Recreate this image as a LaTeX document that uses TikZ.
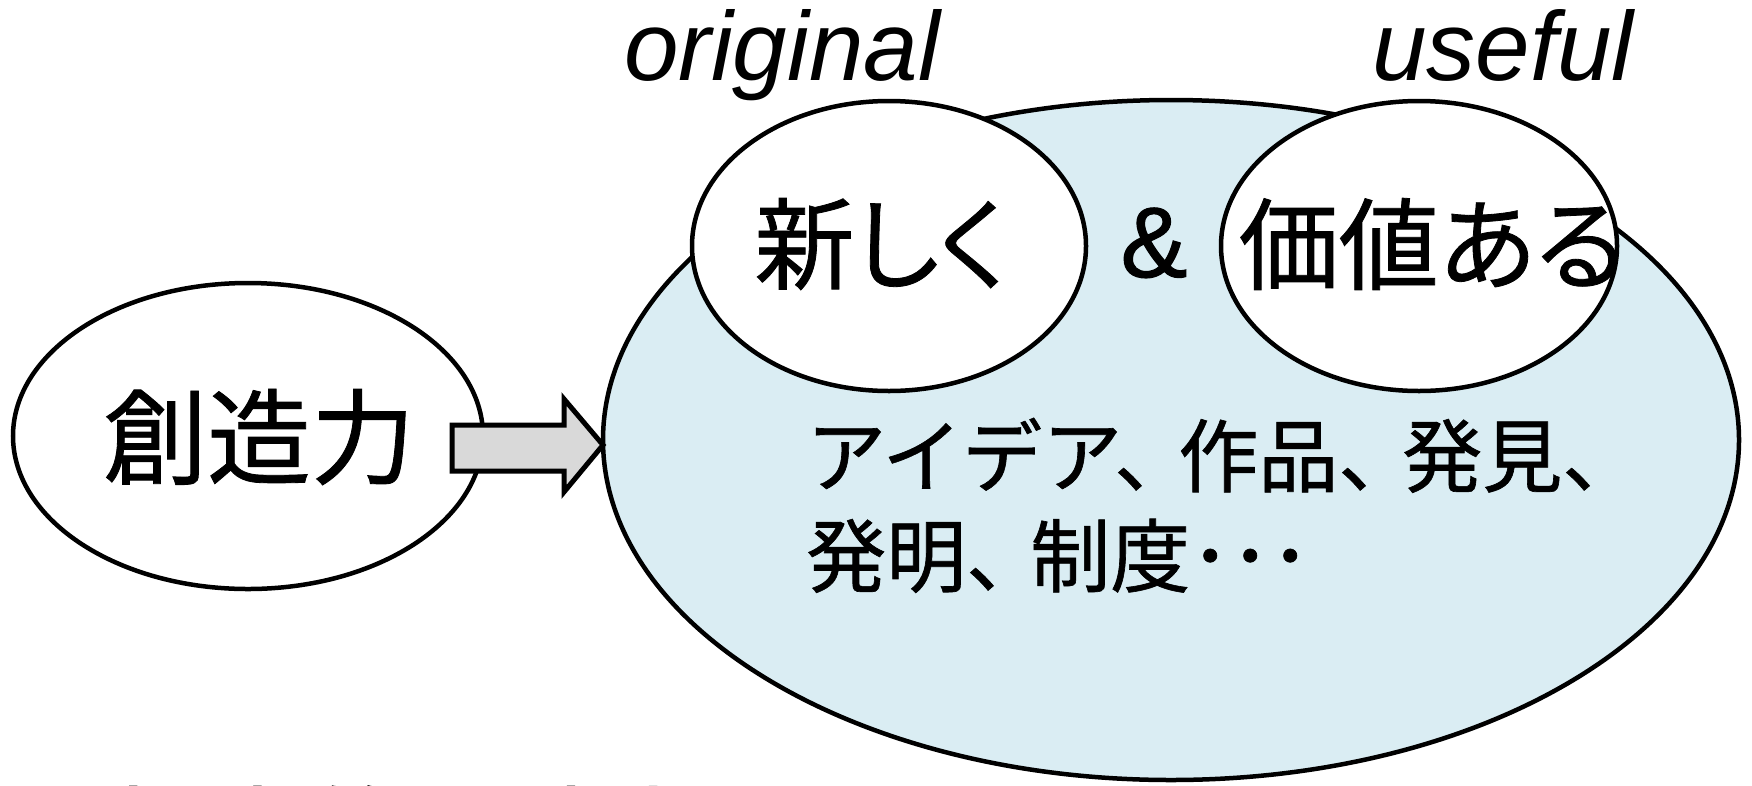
\documentclass[tikz,border=0pt]{standalone}
\usepackage{fontspec}
\setmainfont{Liberation Sans}
\newfontfamily\jp[FakeBold=0.8]{Noto Sans CJK JP}
\newfontfamily\jpp[FakeBold=0.8,RawFeature=+palt]{Noto Sans CJK JP}
\newfontfamily\ampfont[FakeBold=1.2]{Liberation Sans}
\newcommand{\tten}{、\kern-0.2em}
\tikzset{
  ell/.style={draw=black, line width=4.5pt, ellipse},
  jptext/.style={font=\jp, inner sep=0pt, anchor=base west},
  jphead/.style={font=\jpp, inner sep=0pt, anchor=center},
  lbl/.style={font=\itshape, inner sep=0pt, anchor=base},
  arrowbody/.style={draw=black, line width=5pt, fill=gray!30, line join=miter}
}
\usetikzlibrary{shapes.geometric}
\begin{document}
\begin{tikzpicture}[x=1pt,y=-1pt]
\useasboundingbox (0,0) rectangle (1752,785);
\clip (0,0) rectangle (1752,785);
% left ellipse
\draw[ell, fill=white] (248,436) ellipse [x radius=235, y radius=153];
% big ellipse
\draw[ell, fill={rgb,255:red,218;green,237;blue,243}] (1171,440) ellipse [x radius=568, y radius=340];
\coordinate (bigw) at (603,445);
% small ellipses
\draw[ell, fill=white] (889,246) ellipse [x radius=197, y radius=145];
\draw[ell, fill=white] (1419,246) ellipse [x radius=198, y radius=145];
% texts
\node[jphead] (sozo) at (259,437) {\fontsize{104}{104}\selectfont 創造力};
\node[jphead] (atara) at (881,244) {\fontsize{100}{100}\selectfont 新しく};
\node[jphead] (kachi) at (1432,244) {\fontsize{100}{100}\selectfont 価値ある};
\node[inner sep=0pt, anchor=base] (amp) at (1154,277) {\ampfont\fontsize{100}{100}\selectfont\&};
\node[lbl, font=\itshape\fontsize{98}{98}\selectfont] (orig) at (782,80) {original};
\node[lbl, font=\itshape\fontsize{98}{98}\selectfont] (usef) at (1503,80) {useful};
\node[jptext] (line1) at (806,486) {\fontsize{80}{80}\selectfont アイデア\tten 作品\tten 発見、};
\node[jptext] (line2) at (806,586) {\fontsize{80}{80}\selectfont 発明\tten 制度･･･};
\node[jptext] (bottom) at (108,870) {\fontsize{100}{100}\selectfont 社会的創造力};
% arrow
\draw[arrowbody] (452,425) -- (564,425) -- (564,399) -- (bigw) -- (564,492) -- (564,471) -- (452,471) -- cycle;
\end{tikzpicture}
\end{document}
